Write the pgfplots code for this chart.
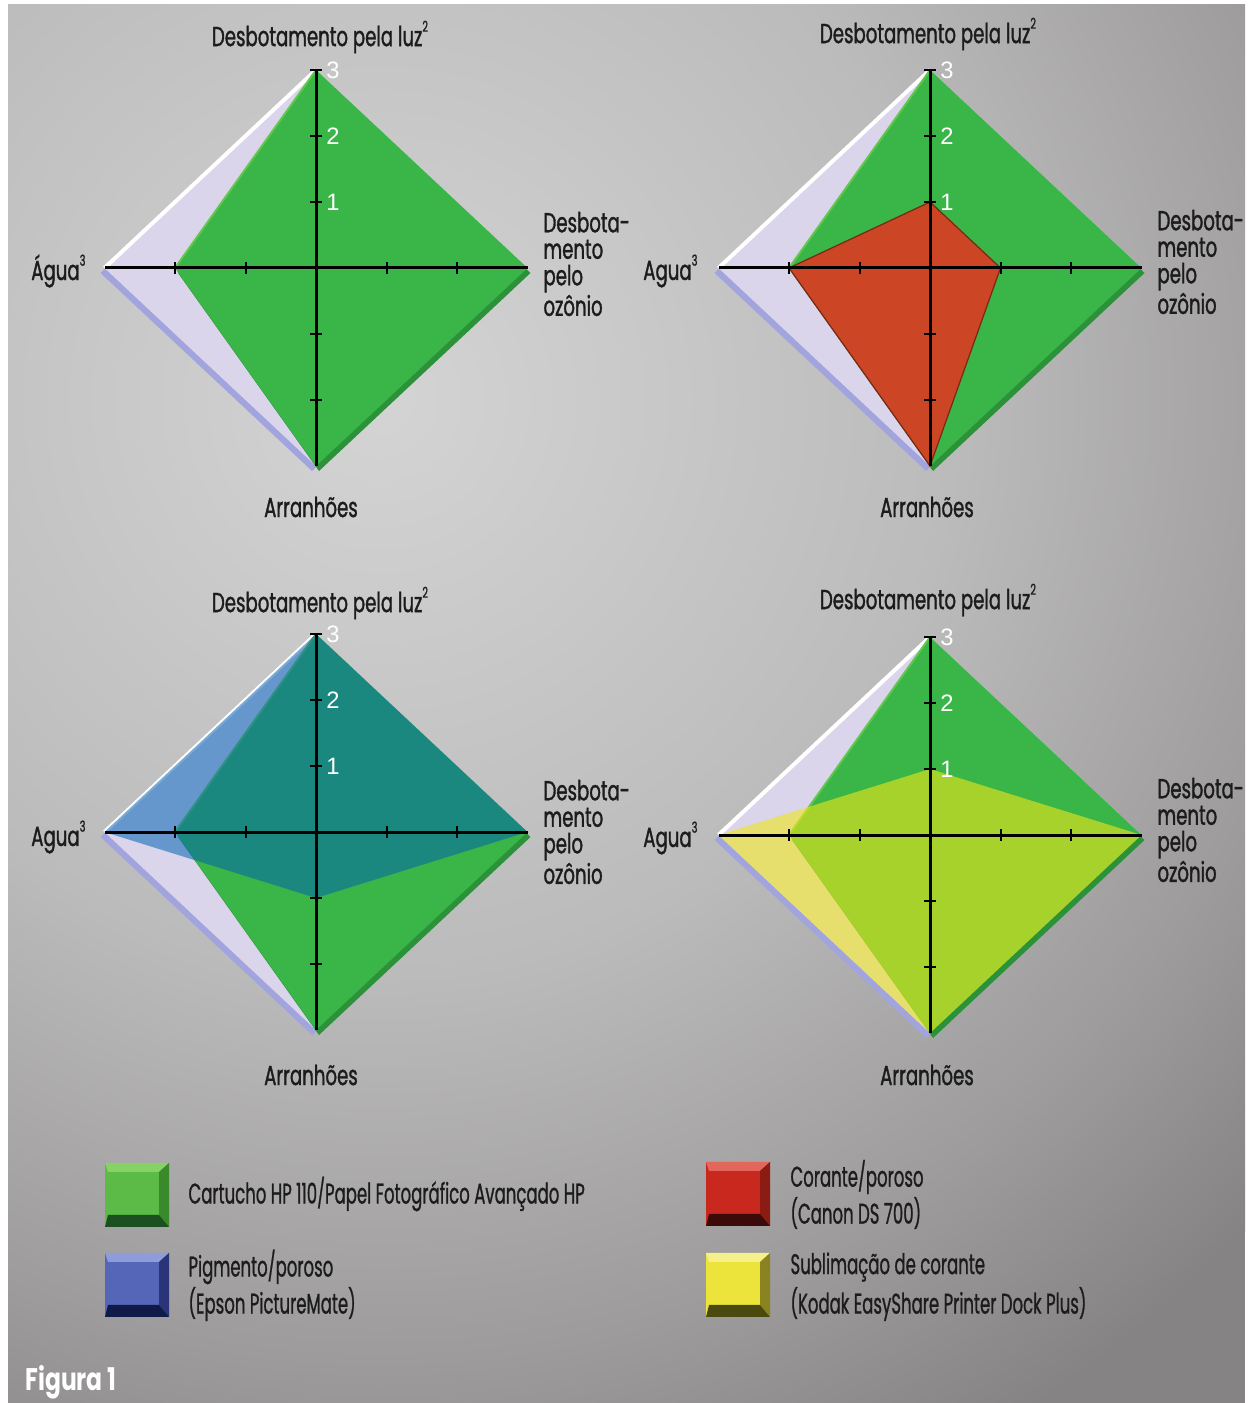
\documentclass[border=0pt]{standalone}
\usepackage{pgfplots}
\pgfplotsset{compat=1.18}
\usepackage{fontspec}
\setmainfont{Poppins}[FakeStretch=0.66, FakeBold=1.2]
\newfontfamily\legfont{Poppins}[FakeStretch=0.58, FakeBold=0.8]
\newfontfamily\figfont{Poppins}[FakeStretch=0.75]
\newfontfamily\numfont{Liberation Sans}

\definecolor{bg0}{HTML}{D5D4D4}
\definecolor{bg1}{HTML}{BCBBBB}
\definecolor{bg2}{HTML}{9D9B9C}
\definecolor{bg3}{HTML}{858384}
\pgfdeclareradialshading{bgshade}{\pgfpoint{0bp}{0bp}}{color(0bp)=(bg0); color(12bp)=(bg1); color(20bp)=(bg2); color(25bp)=(bg3); color(50bp)=(bg3)}

\definecolor{lav}{HTML}{DAD5EB}
\definecolor{lavshadow}{HTML}{A2A5DD}
\definecolor{hpgreen}{HTML}{3AB548}
\definecolor{greenshadow}{HTML}{2C923A}
\definecolor{greenhi}{HTML}{62C84C}
\definecolor{canonred}{HTML}{CC4626}
\definecolor{redline}{HTML}{7A2A14}
\definecolor{epsonblue}{HTML}{0061B2}
\definecolor{kodakyellow}{HTML}{F0E619}
\definecolor{txt}{HTML}{1C1C1C}

\definecolor{sgF}{HTML}{5CBA46}\definecolor{sgT}{HTML}{86D266}\definecolor{sgR}{HTML}{3A8A2C}\definecolor{sgB}{HTML}{1C5020}
\definecolor{srF}{HTML}{C8281E}\definecolor{srT}{HTML}{E2665A}\definecolor{srR}{HTML}{8A1C14}\definecolor{srB}{HTML}{3C0A08}
\definecolor{sbF}{HTML}{5566B8}\definecolor{sbT}{HTML}{8E9CDA}\definecolor{sbR}{HTML}{2A3478}\definecolor{sbB}{HTML}{101A48}
\definecolor{syF}{HTML}{ECE43A}\definecolor{syT}{HTML}{F6F08A}\definecolor{syR}{HTML}{8A8420}\definecolor{syB}{HTML}{4A4A10}

\pgfplotsset{radar/.style={
  anchor=center,
  axis lines=middle,
  axis line style={-, line width=1.2pt, black},
  xmin=-3, xmax=3, ymin=-3, ymax=3,
  x=28.2pt, y=26.4pt,
  xtick={-2,-1,1,2}, xticklabels={},
  ytick={-2,-1,1,2,3}, yticklabels={,,1,2,3},
  tick align=center, major tick length=4.8pt,
  tick style={line width=0.8pt, black},
  yticklabel style={anchor=west, text=white, font=\numfont\fontsize{9.5}{9.5}\selectfont, xshift=3pt},
  axis on top, clip=false,
}}

\newcommand\swatch[6]{%
 \fill[#3] (#1,#2) rectangle ++(64,64);
 \fill[#4] (#1,#2) -- ++(64,0) -- ++(-10,9) -- ++(-51,0) -- cycle;
 \fill[#5] ({#1+64},#2) -- ++(0,64) -- ++(-10,-12) -- ++(0,-43) -- cycle;
 \fill[#6] (#1,{#2+64}) -- ++(64,0) -- ++(-10,-12) -- ++(-51,0) -- cycle;
}
\newcommand\lblfont{\fontsize{11}{10.6}\selectfont}
\newcommand\smallsup[1]{\raisebox{0.95ex}{\fontsize{6}{6}\selectfont #1}}
\newcommand\legf{\legfont\fontsize{11.4}{10}\selectfont}

\begin{document}
\begin{tikzpicture}
\begin{scope}[x=0.4pt,y=-0.4pt]
\fill[white] (0,0) rectangle (1248,1403);
\begin{scope}
\clip (8,5) rectangle (1245,1403);
\fill[bg3] (8,5) rectangle (1245,1403);
\shade[shading=bgshade] (380,400) circle[radius=1200];
\end{scope}
\end{scope}

% ---------- top left: HP
\begin{axis}[radar, at={(126.4pt,-107.2pt)}]
\addplot[fill=lavshadow, draw=none, xshift=-1.6pt, yshift=-2pt] coordinates {(3,0) (0,3) (-3,0) (0,-3)} --cycle;
\addplot[fill=lav, draw=none] coordinates {(3,0) (0,3) (-3,0) (0,-3)} --cycle;
\addplot[draw=white, line width=1.6pt] coordinates {(-3,0) (0,3)};
\addplot[fill=greenshadow, draw=none, xshift=1.2pt, yshift=-2pt] coordinates {(3,0) (0,3) (-2,0) (0,-3)} --cycle;
\addplot[fill=hpgreen, draw=none] coordinates {(3,0) (0,3) (-2,0) (0,-3)} --cycle;
\addplot[draw=greenhi, line width=0.8pt] coordinates {(-2,0) (0,3)};
\end{axis}

% ---------- top right: Canon
\begin{axis}[radar, at={(372pt,-107.2pt)}]
\addplot[fill=lavshadow, draw=none, xshift=-1.6pt, yshift=-2pt] coordinates {(3,0) (0,3) (-3,0) (0,-3)} --cycle;
\addplot[fill=lav, draw=none] coordinates {(3,0) (0,3) (-3,0) (0,-3)} --cycle;
\addplot[draw=white, line width=1.6pt] coordinates {(-3,0) (0,3)};
\addplot[fill=greenshadow, draw=none, xshift=1.2pt, yshift=-2pt] coordinates {(3,0) (0,3) (-2,0) (0,-3)} --cycle;
\addplot[fill=hpgreen, draw=none] coordinates {(3,0) (0,3) (-2,0) (0,-3)} --cycle;
\addplot[draw=greenhi, line width=0.8pt] coordinates {(-2,0) (0,3)};
\addplot[fill=canonred, draw=redline, line width=0.5pt] coordinates {(1,0) (0,1) (-2,0) (0,-3)} --cycle;
\end{axis}

% ---------- bottom left: Epson
\begin{axis}[radar, at={(126.4pt,-332.8pt)}]
\addplot[fill=lavshadow, draw=none, xshift=-1.6pt, yshift=-2pt] coordinates {(3,0) (0,3) (-3,0) (0,-3)} --cycle;
\addplot[fill=lav, draw=none] coordinates {(3,0) (0,3) (-3,0) (0,-3)} --cycle;
\addplot[draw=white, line width=1.6pt] coordinates {(-3,0) (0,3)};
\addplot[fill=greenshadow, draw=none, xshift=1.2pt, yshift=-2pt] coordinates {(3,0) (0,3) (-2,0) (0,-3)} --cycle;
\addplot[fill=hpgreen, draw=none] coordinates {(3,0) (0,3) (-2,0) (0,-3)} --cycle;
\addplot[draw=greenhi, line width=0.8pt] coordinates {(-2,0) (0,3)};
\addplot[fill=epsonblue, fill opacity=0.53, draw=none] coordinates {(3,0) (0,3) (-3,0) (0,-1)} --cycle;
\end{axis}

% ---------- bottom right: Kodak
\begin{axis}[radar, at={(372pt,-334pt)}]
\addplot[fill=lavshadow, draw=none, xshift=-1.6pt, yshift=-2pt] coordinates {(3,0) (0,3) (-3,0) (0,-3)} --cycle;
\addplot[fill=lav, draw=none] coordinates {(3,0) (0,3) (-3,0) (0,-3)} --cycle;
\addplot[draw=white, line width=1.6pt] coordinates {(-3,0) (0,3)};
\addplot[fill=greenshadow, draw=none, xshift=1.2pt, yshift=-2pt] coordinates {(3,0) (0,3) (-2,0) (0,-3)} --cycle;
\addplot[fill=hpgreen, draw=none] coordinates {(3,0) (0,3) (-2,0) (0,-3)} --cycle;
\addplot[draw=greenhi, line width=0.8pt] coordinates {(-2,0) (0,3)};
\addplot[fill=kodakyellow, fill opacity=0.6, draw=none] coordinates {(3,0) (0,1) (-3,0) (0,-3)} --cycle;
\end{axis}

\begin{scope}[x=0.4pt,y=-0.4pt, every node/.style={text=txt, font=\lblfont, inner sep=0pt}]
% labels top-left
\node at (320,37) {Desbotamento pela luz\smallsup{2}};
\node[anchor=west, align=left] at (543,264) {Desbota-\\mento\\pelo\\ozônio};
\node[anchor=east] at (86,271) {Água\smallsup{3}};
\node at (311,507) {Arranhões};
% top-right
\node at (928,34) {Desbotamento pela luz\smallsup{2}};
\node[anchor=west, align=left] at (1157,262) {Desbota-\\mento\\pelo\\ozônio};
\node[anchor=east] at (698,271) {Agua\smallsup{3}};
\node at (927,507) {Arranhões};
% bottom-left
\node at (320,603) {Desbotamento pela luz\smallsup{2}};
\node[anchor=west, align=left] at (543,832) {Desbota-\\mento\\pelo\\ozônio};
\node[anchor=east] at (86,837) {Agua\smallsup{3}};
\node at (311,1075) {Arranhões};
% bottom-right
\node at (928,600) {Desbotamento pela luz\smallsup{2}};
\node[anchor=west, align=left] at (1157,830) {Desbota-\\mento\\pelo\\ozônio};
\node[anchor=east] at (698,838) {Agua\smallsup{3}};
\node at (927,1075) {Arranhões};

% legend
\swatch{105}{1163}{sgF}{sgT}{sgR}{sgB}
\swatch{105}{1253}{sbF}{sbT}{sbR}{sbB}
\swatch{706}{1162}{srF}{srT}{srR}{srB}
\swatch{706}{1253}{syF}{syT}{syR}{syB}
\node[anchor=west, font=\legf] at (188,1194) {Cartucho HP 110/Papel Fotográfico Avançado HP};
\node[anchor=west, font=\legf] at (188,1267) {Pigmento/poroso};
\node[anchor=west, font=\legf] at (188,1304) {(Epson PictureMate)};
\node[anchor=west, font=\legf] at (790,1177) {Corante/poroso};
\node[anchor=west, font=\legf] at (790,1213) {(Canon DS 700)};
\node[anchor=west, font=\legf] at (790,1267) {Sublimação de corante};
\node[anchor=west, font=\legf] at (790,1304) {(Kodak EasyShare Printer Dock Plus)};
\node[anchor=west, text=white, font=\figfont\bfseries\fontsize{12.5}{12.5}\selectfont] at (25,1382) {Figura 1};
\end{scope}

\pgfresetboundingbox
\path (0,0) rectangle (499.2pt,-561.2pt);
\end{tikzpicture}
\end{document}
